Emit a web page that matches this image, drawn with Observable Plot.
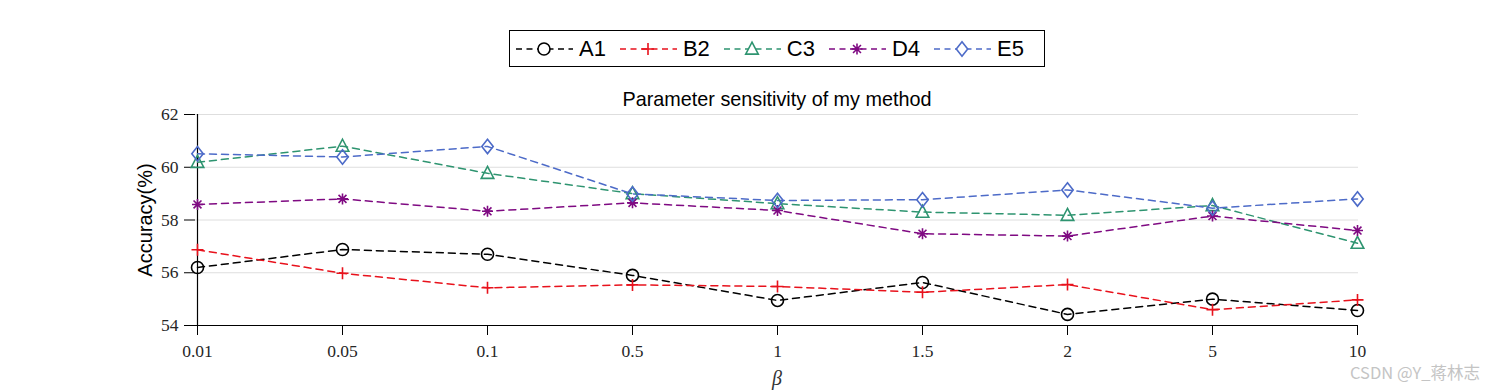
<!DOCTYPE html>
<html>
<head>
<meta charset="utf-8">
<script src="https://cdn.jsdelivr.net/npm/d3@7"></script>
<script src="https://cdn.jsdelivr.net/npm/@observablehq/plot@0.6"></script>
<style>
  html, body { margin:0; padding:0; background:#fff; }
  #wrap { position:relative; width:1500px; height:390px; overflow:hidden; }
  #chart { position:absolute; left:0; top:0; }
  #legend { position:absolute; left:509px; top:30px; width:530px; height:35px; border:1px solid #000;
            display:flex; align-items:center; padding-left:4px; box-sizing:content-box;
            font-family:"Liberation Sans", Arial, sans-serif; font-size:22px; color:#000; background:#fff; }
  #legend .item { display:flex; align-items:center; margin-right:12px; }
  #legend .item span { margin-left:5px; }
  #wm { position:absolute; left:1350px; top:360px; font-family:"Noto Sans CJK SC", sans-serif; font-size:16.5px; color:#c4c4c4; }
</style>
</head>
<body>
<div id="wrap">
  <div id="chart"></div>
  <div id="legend"></div>
  <div id="wm">CSDN @Y_蒋林志</div>
</div>
<script>
const betas = ["0.01","0.05","0.1","0.5","1","1.5","2","5","10"];
const seriesNames = ["A1","B2","C3","D4","E5"];
const A1 = [56.2, 56.88, 56.7, 55.9, 54.95, 55.63, 54.42, 55.0, 54.57];
const B2 = [56.87, 55.98, 55.43, 55.54, 55.48, 55.26, 55.55, 54.6, 54.97];
const C3 = [60.19, 60.8, 59.77, 59.0, 58.62, 58.3, 58.18, 58.55, 57.12];
const D4 = [58.59, 58.8, 58.33, 58.65, 58.36, 57.48, 57.39, 58.15, 57.6];
const E5 = [60.51, 60.39, 60.79, 58.99, 58.74, 58.77, 59.14, 58.45, 58.8];
const yTicks = [54, 56, 58, 60, 62];

const colors = {A1:"#000000", B2:"#e8121c", C3:"#2e9470", D4:"#7f0a82", E5:"#4d6bc8"};
const values = {A1, B2, C3, D4, E5};

// custom MATLAB-like marker symbols (r = sqrt(size/PI))
const R = s => Math.sqrt(s / Math.PI);
const symCircle = {draw(c, s){ const r = R(s); c.moveTo(r,0); c.arc(0,0,r,0,2*Math.PI); }};
const symPlus = {draw(c, s){ const r = R(s); c.moveTo(-r,0); c.lineTo(r,0); c.moveTo(0,-r); c.lineTo(0,r); }};
const symTri = {draw(c, s){ const r = R(s); c.moveTo(0,-r*1.15); c.lineTo(r*1.05,r*0.85); c.lineTo(-r*1.05,r*0.85); c.closePath(); }};
const symStar = {draw(c, s){ const r = R(s); const d = r*0.72;
  c.moveTo(-r,0); c.lineTo(r,0); c.moveTo(0,-r); c.lineTo(0,r);
  c.moveTo(-d,-d); c.lineTo(d,d); c.moveTo(-d,d); c.lineTo(d,-d); }};
const symDiamond = {draw(c, s){ const r = R(s); c.moveTo(0,-r*1.2); c.lineTo(r*0.95,0); c.lineTo(0,r*1.2); c.lineTo(-r*0.95,0); c.closePath(); }};
const symbols = {A1:symCircle, B2:symPlus, C3:symTri, D4:symStar, E5:symDiamond};
const sizes = {A1:6, B2:6, C3:6, D4:5.5, E5:6};

const rows = seriesNames.flatMap(n => betas.map((b,i) => ({series:n, beta:b, value:values[n][i]})));

const marks = [
  Plot.ruleY([56,58,60,62], {stroke:"#dedede", strokeWidth:1}),
  Plot.ruleY([54], {stroke:"#000", strokeWidth:1.2}),
  Plot.ruleX([betas[0]], {stroke:"#000", strokeWidth:1.2}),
  Plot.axisX({tickSize:10, tickPadding:9, stroke:"#000", fontSize:17.5, label:null}),
  Plot.axisY({ticks:yTicks, tickSize:11, tickPadding:6, stroke:"#000", fontSize:17.5, label:null}),
];
for (const n of seriesNames) {
  const d = rows.filter(r => r.series === n);
  marks.push(Plot.line(d, {x:"beta", y:"value", stroke:colors[n], strokeWidth:1.5, strokeDasharray:"7,5"}));
}
for (const n of seriesNames) {
  const d = rows.filter(r => r.series === n);
  marks.push(Plot.dot(d, {x:"beta", y:"value", symbol:symbols[n], r:sizes[n], stroke:colors[n], fill:"none", strokeWidth:1.6}));
}
marks.push(
  Plot.text(["Accuracy(%)"], {frameAnchor:"left", textAnchor:"middle", lineAnchor:"middle", dx:-50, rotate:-90, fontFamily:"Liberation Sans", fontSize:20, fill:"#000"}),
  Plot.text(["β"], {frameAnchor:"bottom", lineAnchor:"middle", dy:53, fontStyle:"italic", fontSize:20, fill:"#333"}),
  Plot.text(["Parameter sensitivity of my method"], {frameAnchor:"top", lineAnchor:"middle", dy:-15, fontFamily:"Liberation Sans", fontSize:19.8, fill:"#000"})
);

const chart = Plot.plot({
  width:1500, height:390,
  marginTop:114, marginBottom:65, marginLeft:195, marginRight:142,
  x:{type:"point", domain:betas, padding:0},
  y:{domain:[54,62]},
  style:{fontFamily:"'Liberation Serif', 'Times New Roman', serif", fontSize:"17.5px", color:"#262626", background:"transparent"},
  marks
});
document.getElementById("chart").appendChild(chart);

// legend
const legend = document.getElementById("legend");
for (const n of seriesNames) {
  const p = d3.path();
  const sz = Math.PI * sizes[n] * sizes[n];
  symbols[n].draw(p, sz);
  const item = document.createElement("div");
  item.className = "item";
  item.innerHTML = `<svg width="60" height="22" viewBox="-30 -11 60 22">
    <line x1="-29" x2="29" y1="0" y2="0" stroke="${colors[n]}" stroke-width="1.5" stroke-dasharray="6,4.5" stroke-dashoffset="-1"/>
    <path d="${p.toString()}" fill="#fff" stroke="${colors[n]}" stroke-width="1.6"/>
  </svg><span>${n}</span>`;
  legend.appendChild(item);
}
</script>
</body>
</html>
